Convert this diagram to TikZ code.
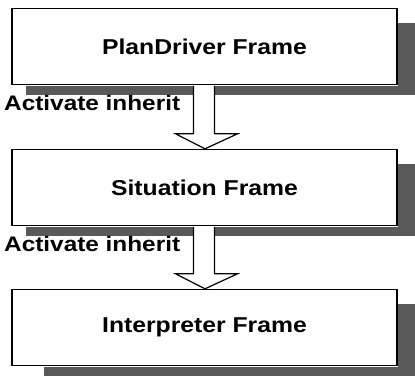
\documentclass[tikz,border=0pt]{standalone}
\usepackage{fontspec}
\usepackage{graphicx}
\setmainfont{Liberation Sans}
\usetikzlibrary{calc}
\tikzset{
  frame/.style={draw=black, line width=1.4pt, fill=white, minimum width=385pt,
    minimum height=76pt, inner sep=0pt, font=\fontsize{21.5}{24}\selectfont\bfseries},
  shadowfill/.style={fill=black!65},
  lbl/.style={inner sep=0pt, anchor=west, font=\fontsize{21}{24}\selectfont\bfseries},
  bigarrow/.style={draw=black, line width=1.2pt, fill=white, line join=miter}
}
\newcommand{\wide}[1]{\scalebox{1.15}[1]{#1}}
\newcommand{\wider}[1]{\scalebox{1.16}[1]{#1}}
\begin{document}
\begin{tikzpicture}[x=1pt,y=-1pt]
\useasboundingbox (0,0) rectangle (415,376);
% frames
\node[frame] (b1) at (204.5,46.5) {\wide{PlanDriver Frame}};
\node[frame] (b2) at (204.5,187.5) {\wide{Situation Frame}};
\node[frame] (b3) at (204.5,327.5) {\wide{Interpreter Frame}};
% shadows
\foreach \b/\s in {b1/15, b2/15, b3/33} {
  \fill[shadowfill] ($(\b.north east)+(0.7,15)$) rectangle ($(\b.south east)+(17,10)$);
  \fill[shadowfill] ($(\b.south west)+(\s,0.7)$) rectangle ($(\b.south east)+(17,10)$);
}
% arrows
\foreach \u/\d in {b1/b2, b2/b3} {
  \path[bigarrow] ($(\u.south)+(-11,0.7)$) -- ($(\d.north)+(-11,-15)$)
    -- ($(\d.north)+(-29,-15)$) -- ($(\d.north)+(0.5,0)$)
    -- ($(\d.north)+(33,-15)$) -- ($(\d.north)+(10,-15)$)
    -- ($(\u.south)+(10,0.7)$);
}
% labels
\node[lbl] (l1) at (4,103) {\wider{Activate inherit}};
\node[lbl] (l2) at (4,244) {\wider{Activate inherit}};
\end{tikzpicture}
\end{document}
